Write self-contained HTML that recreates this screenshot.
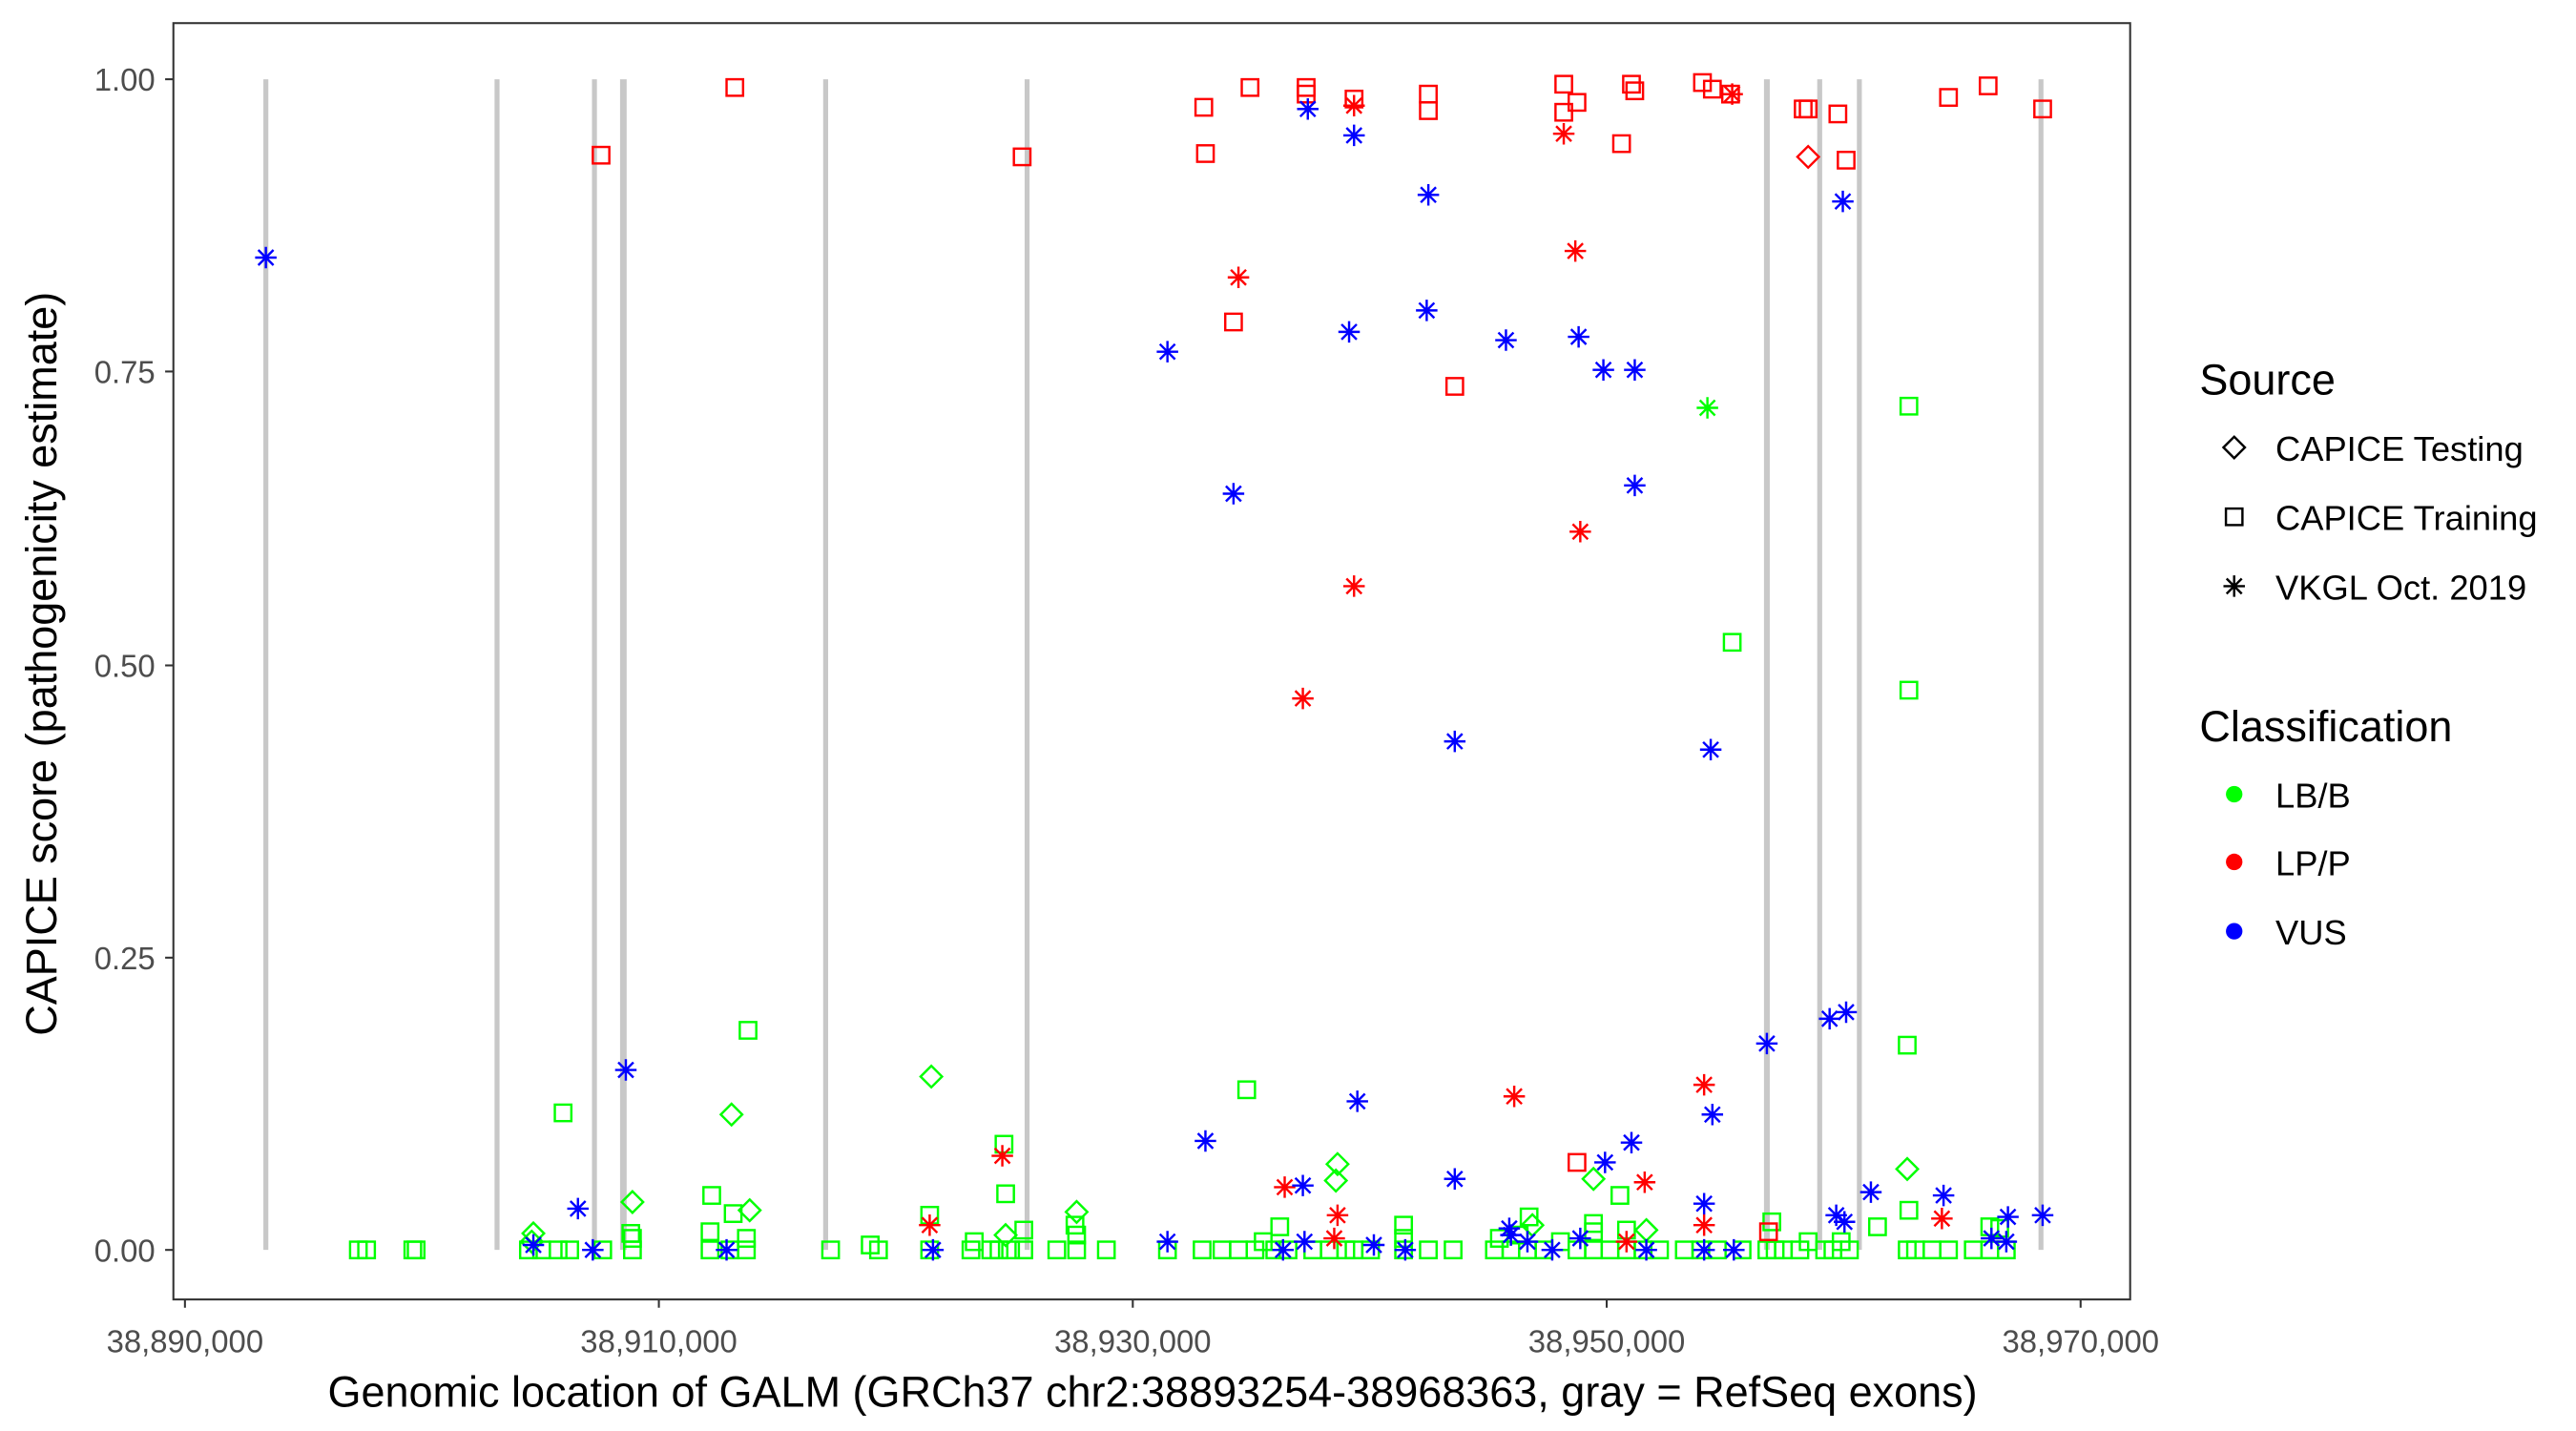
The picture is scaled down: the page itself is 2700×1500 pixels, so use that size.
<!DOCTYPE html>
<html><head><meta charset="utf-8"><style>
html,body{margin:0;padding:0;background:#fff}
svg{display:block}
text{font-family:"Liberation Sans",Arial,sans-serif}
</style></head><body>
<svg width="2700" height="1500" viewBox="0 0 1560 866.67" xmlns="http://www.w3.org/2000/svg">
<defs>
<g id="sq"><rect x="-5" y="-5" width="10" height="10" fill="none" stroke="currentColor" stroke-width="1.4"/></g>
<g id="dm"><path d="M0,-6.5L6.5,0L0,6.5L-6.5,0Z" fill="none" stroke="currentColor" stroke-width="1.4"/></g>
<g id="as"><path d="M0,-6.5V6.5M-6.5,0H6.5M-4.6,-4.6L4.6,4.6M-4.6,4.6L4.6,-4.6" stroke="currentColor" stroke-width="1.4"/></g>
</defs>
<rect width="1560" height="866.67" fill="#fff"/>
<g stroke="#c8c8c8" stroke-width="3">
<line x1="161" y1="48" x2="161" y2="757"/><line x1="301" y1="48" x2="301" y2="757"/>
<line x1="360" y1="48" x2="360" y2="757"/><line x1="377.5" y1="48" x2="377.5" y2="757" stroke-width="4"/>
<line x1="500" y1="48" x2="500" y2="757"/><line x1="622" y1="48" x2="622" y2="757"/>
<line x1="1070" y1="48" x2="1070" y2="757" stroke-width="3.5"/><line x1="1102" y1="48" x2="1102" y2="757"/>
<line x1="1126" y1="48" x2="1126" y2="757"/><line x1="1236" y1="48" x2="1236" y2="757"/>
</g>
<g color="#00ff00">
<use href="#sq" x="217" y="757"/><use href="#sq" x="222" y="757"/><use href="#sq" x="250" y="757"/><use href="#sq" x="252" y="757"/>
<use href="#sq" x="320" y="757"/><use href="#sq" x="328" y="757"/><use href="#sq" x="338" y="757"/><use href="#sq" x="345" y="757"/><use href="#sq" x="365" y="757"/>
<use href="#sq" x="383" y="757"/><use href="#sq" x="383" y="750"/><use href="#sq" x="430" y="757"/><use href="#sq" x="442" y="757"/><use href="#sq" x="452" y="757"/><use href="#sq" x="452" y="750"/><use href="#sq" x="430" y="746"/>
<use href="#sq" x="503" y="757"/><use href="#sq" x="527" y="754"/><use href="#sq" x="532" y="757"/><use href="#sq" x="563" y="757"/><use href="#sq" x="588" y="757"/><use href="#sq" x="590" y="752"/><use href="#sq" x="600" y="757"/><use href="#sq" x="605" y="757"/><use href="#sq" x="612" y="757"/><use href="#sq" x="620" y="757"/><use href="#sq" x="620" y="745"/><use href="#sq" x="640" y="757"/><use href="#sq" x="652" y="757"/><use href="#sq" x="652" y="748"/><use href="#sq" x="670" y="757"/>
<use href="#sq" x="707" y="757"/><use href="#sq" x="728" y="757"/><use href="#sq" x="740" y="757"/><use href="#sq" x="750" y="757"/><use href="#sq" x="760" y="757"/><use href="#sq" x="765" y="752"/><use href="#sq" x="772" y="757"/><use href="#sq" x="780" y="757"/><use href="#sq" x="795" y="757"/><use href="#sq" x="805" y="757"/><use href="#sq" x="815" y="757"/><use href="#sq" x="820" y="757"/><use href="#sq" x="830" y="757"/><use href="#sq" x="850" y="757"/><use href="#sq" x="850" y="750"/><use href="#sq" x="865" y="757"/><use href="#sq" x="880" y="757"/>
<use href="#sq" x="905" y="757"/><use href="#sq" x="908" y="750"/><use href="#sq" x="915" y="757"/><use href="#sq" x="920" y="748"/><use href="#sq" x="925" y="757"/><use href="#sq" x="935" y="757"/><use href="#sq" x="945" y="752"/><use href="#sq" x="955" y="757"/><use href="#sq" x="965" y="757"/><use href="#sq" x="965" y="746"/><use href="#sq" x="975" y="757"/><use href="#sq" x="985" y="757"/><use href="#sq" x="985" y="745"/><use href="#sq" x="995" y="757"/><use href="#sq" x="1005" y="757"/>
<use href="#sq" x="1020" y="757"/><use href="#sq" x="1030" y="757"/><use href="#sq" x="1040" y="757"/><use href="#sq" x="1055" y="757"/><use href="#sq" x="1070" y="757"/><use href="#sq" x="1075" y="757"/><use href="#sq" x="1080" y="757"/><use href="#sq" x="1090" y="757"/><use href="#sq" x="1095" y="752"/><use href="#sq" x="1105" y="757"/><use href="#sq" x="1110" y="757"/><use href="#sq" x="1115" y="752"/><use href="#sq" x="1120" y="757"/>
<use href="#sq" x="1155" y="757"/><use href="#sq" x="1160" y="757"/><use href="#sq" x="1170" y="757"/><use href="#sq" x="1180" y="757"/><use href="#sq" x="1195" y="757"/><use href="#sq" x="1205" y="757"/><use href="#sq" x="1215" y="757"/><use href="#sq" x="1205" y="743"/>
<use href="#sq" x="1156" y="246"/><use href="#sq" x="1049" y="389"/><use href="#sq" x="1156" y="418"/><use href="#sq" x="1155" y="633"/><use href="#sq" x="453" y="624"/><use href="#sq" x="341" y="674"/><use href="#sq" x="755" y="660"/><use href="#sq" x="608" y="693"/><use href="#sq" x="431" y="724"/><use href="#sq" x="609" y="723"/><use href="#sq" x="444" y="735"/><use href="#sq" x="382" y="747"/><use href="#sq" x="563" y="736"/><use href="#sq" x="651" y="742"/><use href="#sq" x="1073" y="740"/><use href="#sq" x="1156" y="733"/><use href="#sq" x="850" y="742"/><use href="#sq" x="775" y="743"/><use href="#sq" x="981" y="724"/><use href="#sq" x="926" y="737"/><use href="#sq" x="1137" y="743"/><use href="#sq" x="1211" y="744"/><use href="#sq" x="965" y="741"/>
<use href="#dm" x="1155" y="708"/><use href="#dm" x="810" y="705"/><use href="#dm" x="809" y="715"/><use href="#dm" x="443" y="675"/><use href="#dm" x="383" y="728"/><use href="#dm" x="454" y="733"/><use href="#dm" x="564" y="652"/><use href="#dm" x="652" y="734"/><use href="#dm" x="323" y="747"/><use href="#dm" x="965" y="714"/><use href="#dm" x="322" y="752"/><use href="#dm" x="928" y="742"/><use href="#dm" x="997" y="745"/><use href="#dm" x="609" y="748"/>
<use href="#as" x="1034" y="247"/>
</g>
<g color="#ff0000">
<use href="#sq" x="445" y="53"/><use href="#sq" x="364" y="94"/><use href="#sq" x="729" y="65"/><use href="#sq" x="730" y="93"/><use href="#sq" x="757" y="53"/><use href="#sq" x="791" y="53"/><use href="#sq" x="791" y="57"/><use href="#sq" x="820" y="60"/><use href="#sq" x="865" y="57"/><use href="#sq" x="865" y="67"/><use href="#sq" x="947" y="51"/><use href="#sq" x="947" y="68"/><use href="#sq" x="955" y="62"/><use href="#sq" x="982" y="87"/><use href="#sq" x="988" y="51"/><use href="#sq" x="990" y="55"/><use href="#sq" x="1031" y="50"/><use href="#sq" x="1037" y="54"/><use href="#sq" x="1048" y="57"/><use href="#sq" x="1092" y="66"/><use href="#sq" x="1095" y="66"/><use href="#sq" x="1113" y="69"/><use href="#sq" x="1118" y="97"/><use href="#sq" x="1180" y="59"/><use href="#sq" x="1204" y="52"/><use href="#sq" x="1237" y="66"/><use href="#sq" x="619" y="95"/><use href="#sq" x="747" y="195"/><use href="#sq" x="881" y="234"/><use href="#sq" x="955" y="704"/><use href="#sq" x="1071" y="746"/>
<use href="#dm" x="1095" y="95"/>
<use href="#as" x="820" y="64"/><use href="#as" x="947" y="81"/><use href="#as" x="750" y="168"/><use href="#as" x="954" y="152"/><use href="#as" x="957" y="322"/><use href="#as" x="820" y="355"/><use href="#as" x="789" y="423"/><use href="#as" x="917" y="664"/><use href="#as" x="1032" y="657"/><use href="#as" x="778" y="719"/><use href="#as" x="810" y="736"/><use href="#as" x="996" y="716"/><use href="#as" x="1176" y="738"/><use href="#as" x="563" y="742"/><use href="#as" x="607" y="700"/><use href="#as" x="808" y="750"/><use href="#as" x="985" y="752"/><use href="#as" x="1049" y="57"/><use href="#as" x="1032" y="742"/>
</g>
<g color="#0000ff">
<use href="#as" x="161" y="156"/><use href="#as" x="792" y="66"/><use href="#as" x="820" y="82"/><use href="#as" x="865" y="118"/><use href="#as" x="1116" y="122"/><use href="#as" x="707" y="213"/><use href="#as" x="864" y="188"/><use href="#as" x="817" y="201"/><use href="#as" x="912" y="206"/><use href="#as" x="956" y="204"/><use href="#as" x="971" y="224"/><use href="#as" x="990" y="224"/><use href="#as" x="747" y="299"/><use href="#as" x="990" y="294"/><use href="#as" x="881" y="449"/><use href="#as" x="1036" y="454"/><use href="#as" x="1070" y="632"/><use href="#as" x="1108" y="617"/><use href="#as" x="1118" y="613"/><use href="#as" x="379" y="648"/><use href="#as" x="822" y="667"/><use href="#as" x="730" y="691"/><use href="#as" x="988" y="692"/><use href="#as" x="1037" y="675"/><use href="#as" x="350" y="732"/><use href="#as" x="881" y="714"/><use href="#as" x="789" y="718"/><use href="#as" x="1133" y="722"/><use href="#as" x="1177" y="724"/><use href="#as" x="1216" y="737"/><use href="#as" x="1237" y="736"/><use href="#as" x="1032" y="729"/><use href="#as" x="1112" y="736"/><use href="#as" x="972" y="704"/><use href="#as" x="914" y="744"/><use href="#as" x="957" y="750"/><use href="#as" x="707" y="752"/><use href="#as" x="565" y="757"/><use href="#as" x="440" y="757"/><use href="#as" x="323" y="754"/><use href="#as" x="359" y="757"/><use href="#as" x="777" y="757"/><use href="#as" x="790" y="752"/><use href="#as" x="832" y="754"/><use href="#as" x="851" y="757"/><use href="#as" x="925" y="752"/><use href="#as" x="940" y="757"/><use href="#as" x="1050" y="757"/><use href="#as" x="997" y="757"/><use href="#as" x="1032" y="757"/><use href="#as" x="1206" y="750"/><use href="#as" x="1215" y="752"/><use href="#as" x="915" y="748"/><use href="#as" x="1117" y="740"/>
</g>
<rect x="105" y="14" width="1185" height="773" fill="none" stroke="#333" stroke-width="1.2"/>
<g stroke="#333" stroke-width="1.2">
<line x1="100" y1="48" x2="105" y2="48"/><line x1="100" y1="225" x2="105" y2="225"/><line x1="100" y1="403" x2="105" y2="403"/><line x1="100" y1="580" x2="105" y2="580"/><line x1="100" y1="757" x2="105" y2="757"/>
<line x1="112" y1="787" x2="112" y2="792"/><line x1="399" y1="787" x2="399" y2="792"/><line x1="686" y1="787" x2="686" y2="792"/><line x1="973" y1="787" x2="973" y2="792"/><line x1="1260" y1="787" x2="1260" y2="792"/>
</g>
<g fill="#4d4d4d" font-size="19" text-anchor="end">
<text x="94" y="55">1.00</text><text x="94" y="232">0.75</text><text x="94" y="410">0.50</text><text x="94" y="587">0.25</text><text x="94" y="764">0.00</text>
</g>
<g fill="#4d4d4d" font-size="19" text-anchor="middle">
<text x="112" y="819">38,890,000</text><text x="399" y="819">38,910,000</text><text x="686" y="819">38,930,000</text><text x="973" y="819">38,950,000</text><text x="1260" y="819">38,970,000</text>
</g>
<text x="698" y="852" font-size="26" text-anchor="middle" fill="#000">Genomic location of GALM (GRCh37 chr2:38893254-38968363, gray = RefSeq exons)</text>
<text transform="translate(34,402) rotate(-90)" font-size="26" text-anchor="middle" fill="#000">CAPICE score (pathogenicity estimate)</text>
<text x="1332" y="239" font-size="26">Source</text>
<g color="#000"><use href="#dm" x="1353" y="271"/><use href="#sq" x="1353" y="313"/><use href="#as" x="1353" y="355"/></g>
<g font-size="21"><text x="1378" y="279">CAPICE Testing</text><text x="1378" y="321">CAPICE Training</text><text x="1378" y="363">VKGL Oct. 2019</text></g>
<text x="1332" y="449" font-size="26">Classification</text>
<circle cx="1353" cy="481" r="5" fill="#00ff00"/><circle cx="1353" cy="522" r="5" fill="#ff0000"/><circle cx="1353" cy="564" r="5" fill="#0000ff"/>
<g font-size="21"><text x="1378" y="489">LB/B</text><text x="1378" y="530">LP/P</text><text x="1378" y="572">VUS</text></g>
</svg>
</body></html>
